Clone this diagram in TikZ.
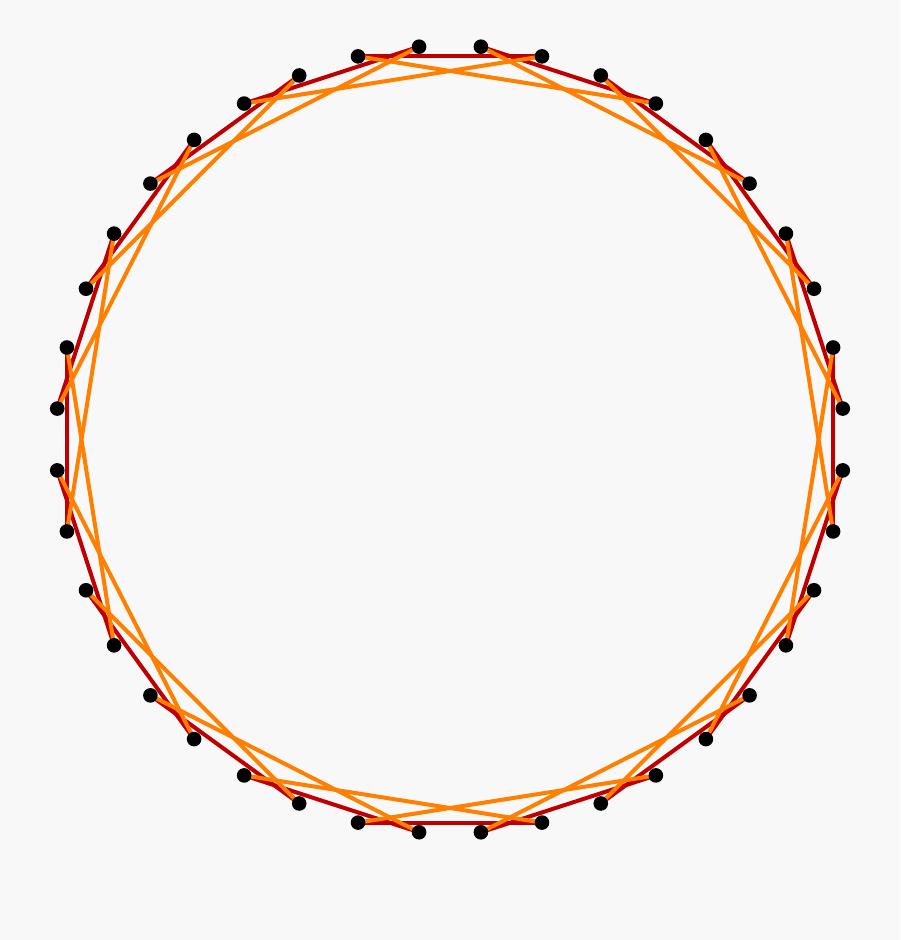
\documentclass[tikz,border=0pt]{standalone}
\definecolor{hgrund}{RGB}{248,248,248}
\definecolor{kurzrot}{RGB}{192,0,0}
\definecolor{langorange}{RGB}{255,128,0}
\tikzset{
	punkt/.style={circle, fill=black, inner sep=0pt, minimum size=0.146cm},
	kurz/.style={draw=kurzrot, line width=0.04cm},
	lang/.style={draw=langorange, line width=0.04cm}
}
\begin{document}
\begin{tikzpicture}[x=0.01cm, y=0.01cm]
	% Hintergrund
	\fill[hgrund] (0,0) rectangle (900,940);
	\useasboundingbox (0,0) rectangle (900,940);
	% Eckpunkte auf dem Kreis
	\foreach \k in {0,...,39}
		\pgfmathsetmacro{\winkel}{94.5+9*\k}
		\coordinate (p\k) at ([shift={(450,500.5)}]\winkel:394);
	% kurze Kanten (rot)
	\foreach \j in {0,...,19}
		\pgfmathtruncatemacro{\a}{2*\j}
		\pgfmathtruncatemacro{\b}{mod(2*\j+3,40)}
		\draw[kurz] (p\a) -- (p\b);
	% lange Kanten (orange)
	\foreach \j in {0,...,19}
		\pgfmathtruncatemacro{\a}{2*\j}
		\pgfmathtruncatemacro{\c}{mod(2*\j+5,40)}
		\draw[lang] (p\a) -- (p\c);
	% Punkte
	\foreach \k in {0,...,39}
		\node[punkt] (n\k) at (p\k) {};
\end{tikzpicture}
\end{document}
